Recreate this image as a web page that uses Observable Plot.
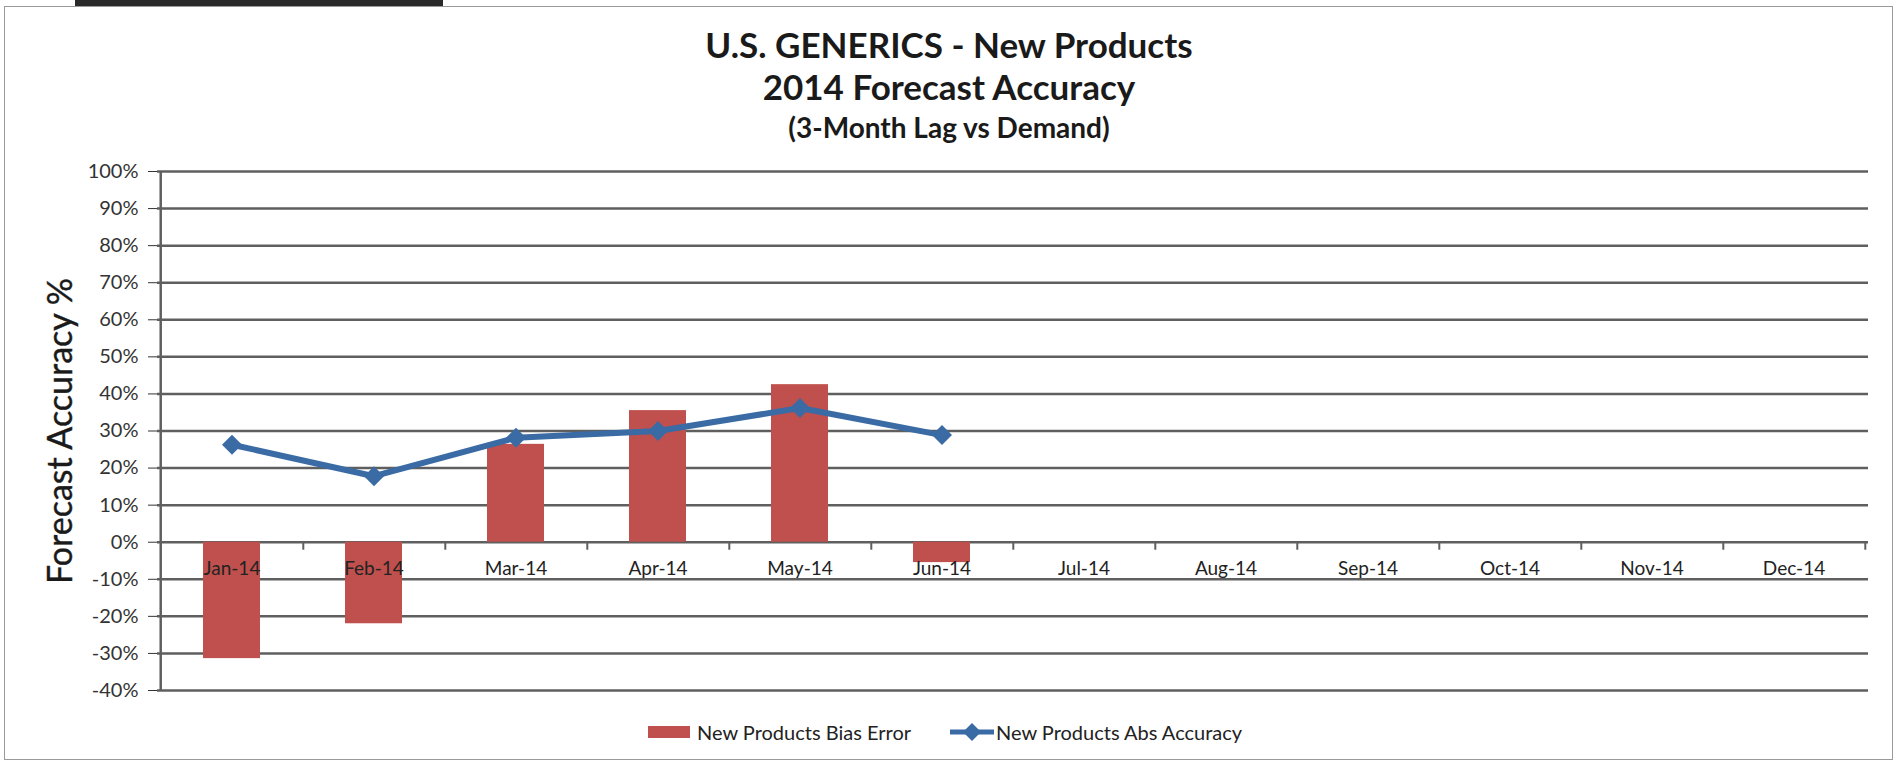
<!DOCTYPE html>
<html><head><meta charset="utf-8">
<script src="https://cdn.jsdelivr.net/npm/d3@7"></script>
<script src="https://cdn.jsdelivr.net/npm/@observablehq/plot@0.6"></script>
<style>
body{margin:0;background:#fff;font-family:Lato,"Open Sans",sans-serif;}
#wrap{position:relative;width:1898px;height:763px;overflow:hidden;background:#fff}
#frame{position:absolute;left:4px;top:6px;width:1889px;height:754px;border:1.5px solid #9a9a9a;box-sizing:border-box}
#tab{position:absolute;left:75px;top:0;width:368px;height:6px;background:#2a2a2a}
.t{position:absolute;left:0;width:1898px;text-align:center;font-weight:bold;color:#1a1a1a;line-height:1;white-space:nowrap}
#ylab{position:absolute;left:58px;top:431px;transform:translate(-50%,-50%) rotate(-90deg);font-size:34px;color:#1a1a1a;white-space:nowrap;-webkit-text-stroke:0.4px #1a1a1a}
#chart{position:absolute;left:0;top:150px}
.lg{position:absolute;font-size:20px;color:#222;white-space:nowrap;line-height:1}
</style>
</head><body>
<div id="wrap">
  <div id="frame"></div>
  <div id="tab"></div>
  <div class="t" id="t1" style="top:27px;font-size:35px"></div>
  <div class="t" id="t2" style="top:69px;font-size:35px"></div>
  <div class="t" id="t3" style="top:113px;font-size:28px"></div>
  <div id="ylab"></div>
  <div id="chart"></div>
  <div id="legend"></div>
</div>
<script>
const titleLines = ["U.S. GENERICS - New Products", "2014 Forecast Accuracy", "(3-Month Lag vs Demand)"];
const yAxisTitle = "Forecast Accuracy %";
const months = ["Jan-14","Feb-14","Mar-14","Apr-14","May-14","Jun-14","Jul-14","Aug-14","Sep-14","Oct-14","Nov-14","Dec-14"];
const dataMonths = ["Jan-14","Feb-14","Mar-14","Apr-14","May-14","Jun-14"];
const biasError = [-31.4, -22.0, 26.4, 35.5, 42.5, -5.5];
const absAccuracy = [26.3, 17.8, 28.2, 30.0, 36.2, 28.9];
const yTicks = [-40,-30,-20,-10,0,10,20,30,40,50,60,70,80,90,100];
const seriesNames = ["New Products Bias Error", "New Products Abs Accuracy"];
const barColor = "#c0504d", lineColor = "#3a6ba4", gridColor = "#5f5f5f";

document.getElementById("t1").textContent = titleLines[0];
document.getElementById("t2").textContent = titleLines[1];
document.getElementById("t3").textContent = titleLines[2];
document.getElementById("ylab").textContent = yAxisTitle;

const W = 1898, H = 570, mL = 157, mR = 30, mT = 21, mB = 30;
const step = (W - mL - mR) / months.length;
const bars = dataMonths.map((m, i) => ({month: m, value: biasError[i]}));
const pts = dataMonths.map((m, i) => ({month: m, value: absAccuracy[i]}));

const chart = Plot.plot({
  width: W, height: H, marginLeft: mL, marginRight: mR, marginTop: mT, marginBottom: mB,
  style: {fontFamily: "Lato, 'Open Sans', sans-serif", fontSize: "20px", color: "#333", background: "transparent", overflow: "visible"},
  x: {type: "band", domain: months, paddingInner: 0.6, paddingOuter: 0.3, axis: null},
  y: {domain: [-40, 100], ticks: yTicks, tickFormat: d => d + "%", tickSize: 9, tickPadding: 10, label: null},
  marks: [
    Plot.ruleY(yTicks, {stroke: gridColor, strokeWidth: 2.5}),
    Plot.ruleX([months[0]], {dx: -step / 2, y1: -40, y2: 100, stroke: gridColor, strokeWidth: 2.5}),
    Plot.ruleX(months, {x: d => d, dx: step / 2, y1: 0, y2: 0, insetBottom: -8, stroke: gridColor, strokeWidth: 2}),
    Plot.barY(bars, {x: "month", y: "value", fill: barColor}),
    Plot.line(pts, {x: "month", y: "value", stroke: lineColor, strokeWidth: 6}),
    Plot.dot(pts, {x: "month", y: "value", symbol: "diamond2", r: 9, fill: lineColor, stroke: "none"}),
    Plot.text(months, {x: d => d, y: 0, dy: 27, text: d => d, fontSize: 19, fill: "#222"})
  ]
});
document.getElementById("chart").appendChild(chart);

const lg = document.getElementById("legend");
lg.innerHTML = `
  <div style="position:absolute;left:648px;top:726px;width:42px;height:12px;background:${barColor}"></div>
  <div class="lg" style="left:697px;top:722px">${seriesNames[0]}</div>
  <svg style="position:absolute;left:949px;top:721px" width="46" height="22">
    <line x1="1" y1="11" x2="45" y2="11" stroke="${lineColor}" stroke-width="5"/>
    <path d="M23,2 L32,11 L23,20 L14,11 Z" fill="${lineColor}"/>
  </svg>
  <div class="lg" style="left:996px;top:722px">${seriesNames[1]}</div>`;
</script>
</body></html>
